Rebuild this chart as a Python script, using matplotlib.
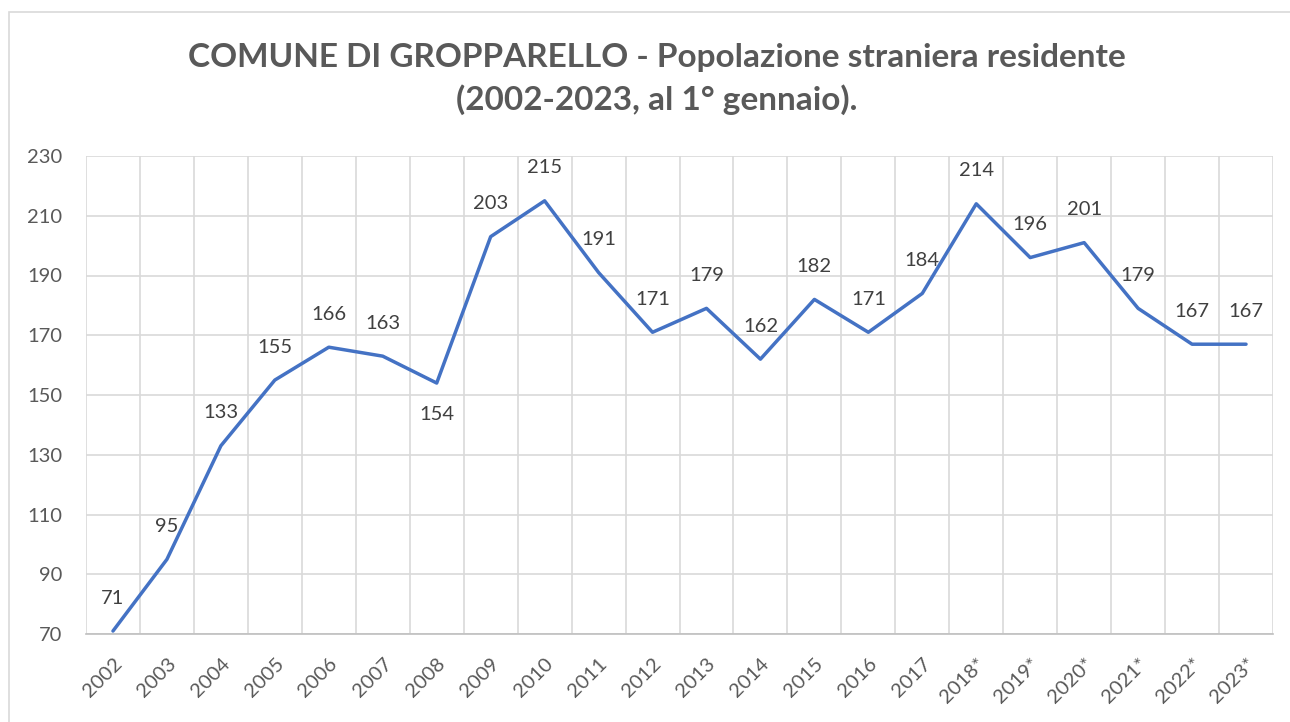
import matplotlib.pyplot as plt
from matplotlib.patches import Rectangle

# dati
anni = ['2002', '2003', '2004', '2005', '2006', '2007', '2008', '2009', '2010', '2011',
        '2012', '2013', '2014', '2015', '2016', '2017', '2018*', '2019*', '2020*',
        '2021*', '2022*', '2023*']
stranieri = [71, 95, 133, 155, 166, 163, 154, 203, 215, 191, 171, 179, 162, 182, 171,
             184, 214, 196, 201, 179, 167, 167]
y_ticks = [70, 90, 110, 130, 150, 170, 190, 210, 230]

grigio = '#595959'
plt.rcParams['font.family'] = ['Lato', 'DejaVu Sans']

fig = plt.figure(figsize=(12.9, 7.22), dpi=100)
# bordo dell'area del grafico (tagliato a destra e in basso come nell'originale)
fig.patches.append(Rectangle((9 / 1290, -0.2), 1.2, 1.2 - 12 / 722,
                             transform=fig.transFigure, fill=False,
                             edgecolor='#d9d9d9', linewidth=1.2))
ax = fig.add_axes([86 / 1290, 1 - 634 / 722, (1273 - 86) / 1290, (634 - 156) / 722])

x = list(range(len(anni)))
ax.plot(x, stranieri, color='#4472C4', linewidth=2.5, solid_capstyle='round',
        solid_joinstyle='round', zorder=3)

for xi, v in zip(x, stranieri):
    off = -31 if v == 154 else 33
    ax.annotate(str(v), (xi, v), xytext=(0, off * 0.72), textcoords='offset points',
                ha='center', va='center', fontsize=14.5, color='#404040')

ax.set_xlim(-0.5, len(anni) - 0.5)
ax.set_ylim(70, 230)
ax.set_yticks(y_ticks)
ax.set_xticks(x)
ax.set_xticklabels(anni, rotation=45, ha='right', va='top', rotation_mode='anchor')
ax.set_xticks([i - 0.5 for i in range(len(anni) + 1)], minor=True)
ax.tick_params(axis='x', which='major', length=0, pad=15, labelsize=14.5, labelcolor=grigio)
ax.tick_params(axis='x', which='minor', length=0)
ax.tick_params(axis='y', length=0, pad=17, labelsize=14.5, labelcolor=grigio)

ax.grid(True, axis='y', which='major', color='#d9d9d9', linewidth=1.2)
ax.grid(True, axis='x', which='minor', color='#d9d9d9', linewidth=1.2)
ax.set_axisbelow(True)
for s in ['top', 'left', 'right']:
    ax.spines[s].set_visible(False)
ax.spines['bottom'].set_color('#bfbfbf')
ax.spines['bottom'].set_linewidth(1.2)

fig.text(657 / 1290, 1 - 57 / 722, 'COMUNE DI GROPPARELLO - Popolazione straniera residente',
         ha='center', va='center', fontsize=24, fontweight='bold', color=grigio)
fig.text(657 / 1290, 1 - 100 / 722, '(2002-2023, al 1° gennaio).',
         ha='center', va='center', fontsize=24, fontweight='bold', color=grigio)

fig.savefig('out.png', dpi=100)
